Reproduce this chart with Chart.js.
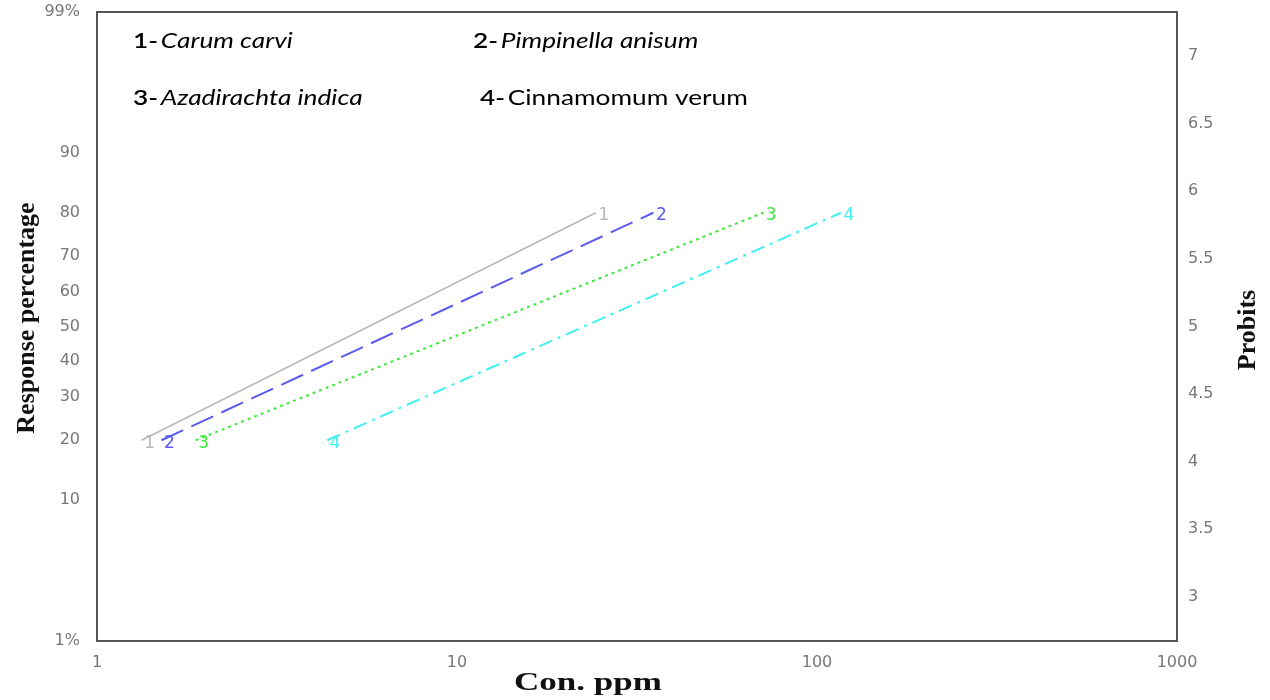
<!DOCTYPE html>
<html>
<head>
<meta charset="utf-8">
<script src="https://cdn.jsdelivr.net/npm/chart.js@4"></script>
<style>
  html, body { margin: 0; padding: 0; background: #fff; }
  #wrap { width: 1270px; height: 700px; }
</style>
</head>
<body>
<div id="wrap"><canvas id="probit_chart" width="1270" height="700"></canvas></div>
<script>
// values
const seriesNo = ['1', '2', '3', '4'];
const species = ['Carum carvi', 'Pimpinella anisum', 'Azadirachta indica', 'Cinnamomum verum'];
const italicName = [true, true, true, false];
const responses = [20, 80];                // % response at the two line ends
const concLow = [1.33, 1.51, 1.88, 4.36];  // ppm at 20 %
const concHigh = [24.3, 35.1, 70.9, 116.5]; // ppm at 80 %
const colors = ['#b8b8b8', '#5a5af0', '#3ee83e', '#3ef0f0'];
const dashes = [[], [24, 9], [3, 4], [14, 6, 3, 6]];
const pctTicks = [1, 10, 20, 30, 40, 50, 60, 70, 80, 90, 99];
const probitTicks = [3, 3.5, 4, 4.5, 5, 5.5, 6, 6.5, 7];
const xTicks = [1, 10, 100, 1000];

// inverse normal (Abramowitz & Stegun 26.2.23) -> probit = 5 + z
function probit(p) {
  p = p / 100;
  const q = p < 0.5 ? p : 1 - p;
  const t = Math.sqrt(-2 * Math.log(q));
  const z = t - (2.515517 + 0.802853 * t + 0.010328 * t * t) /
            (1 + 1.432788 * t + 0.189269 * t * t + 0.001308 * t * t * t);
  return 5 + (p < 0.5 ? -z : z);
}

const datasets = seriesNo.map((n, i) => ({
  label: n,
  data: [{ x: concLow[i], y: probit(responses[0]) }, { x: concHigh[i], y: probit(responses[1]) }],
  borderColor: colors[i],
  borderDash: dashes[i],
  borderWidth: i === 0 ? 1.5 : 2,
  pointRadius: 0,
  fill: false,
  tension: 0
}));

const tickFont = { family: 'DejaVu Sans', size: 16 };

// keep tick labels from pushing the plot box down
function fitY(width) {
  return s => { s.width = width; s.paddingTop = 0; s.paddingBottom = 0; };
}

const drawExtras = {
  id: 'drawExtras',
  afterDatasetsDraw(chart) {
    const ctx = chart.ctx;
    const a = chart.chartArea;
    ctx.save();
    // box
    ctx.strokeStyle = '#555';
    ctx.lineWidth = 2;
    ctx.strokeRect(a.left, a.top, a.right - a.left, a.bottom - a.top);
    // number at each line end
    ctx.font = '17px "DejaVu Sans"';
    ctx.textAlign = 'center';
    ctx.textBaseline = 'middle';
    chart.data.datasets.forEach((ds, i) => {
      chart.getDatasetMeta(i).data.forEach(pt => {
        ctx.fillStyle = ds.borderColor;
        ctx.fillText(ds.label, pt.x + 8, pt.y + 3);
      });
    });
    // species key (source picture is stretched sideways)
    ctx.textAlign = 'left';
    ctx.fillStyle = '#000';
    const spots = [[133, 41], [473, 41], [133, 98], [480, 98]];
    species.forEach((s, i) => {
      ctx.save();
      ctx.translate(spots[i][0], spots[i][1]);
      ctx.scale(1.25, 1);
      ctx.font = '600 21px Lato';
      const pre = seriesNo[i] + '- ';
      ctx.fillText(pre, 0, 0);
      const w = ctx.measureText(pre).width - 3;
      ctx.font = (italicName[i] ? 'italic ' : '') + '21px Lato';
      ctx.fillText(s, w, 0);
      ctx.restore();
    });
    // axis titles
    ctx.fillStyle = '#111';
    ctx.font = 'bold 25px "Liberation Serif"';
    ctx.textAlign = 'center';
    ctx.save();
    ctx.translate(588, 684);
    ctx.scale(1.4, 1);
    ctx.fillText('Con. ppm', 0, 0);
    ctx.restore();
    ctx.font = 'bold 26px "Liberation Serif"';
    ctx.save();
    ctx.translate(27, 318);
    ctx.rotate(-Math.PI / 2);
    ctx.fillText('Response percentage', 0, 0);
    ctx.restore();
    ctx.save();
    ctx.translate(1248, 330);
    ctx.rotate(-Math.PI / 2);
    ctx.fillText('Probits', 0, 0);
    ctx.restore();
    ctx.restore();
  }
};

new Chart(document.getElementById('probit_chart').getContext('2d'), {
  type: 'line',
  data: { datasets: datasets },
  options: {
    responsive: false,
    animation: false,
    layout: { padding: { top: 12, left: 0, right: 0, bottom: 0 } },
    plugins: { legend: { display: false }, tooltip: { enabled: false } },
    scales: {
      x: {
        type: 'logarithmic',
        min: 1, max: 1000,
        grid: { display: false, drawTicks: false },
        border: { display: false },
        afterBuildTicks: s => { s.ticks = xTicks.map(v => ({ value: v })); },
        afterFit: s => { s.height = 59; },
        ticks: { color: '#777', font: tickFont, padding: 12, maxRotation: 0, autoSkip: false,
                 callback: v => String(v) }
      },
      y: {
        type: 'linear',
        position: 'left',
        min: probit(1), max: probit(99),
        grid: { display: false, drawTicks: false },
        border: { display: false },
        afterBuildTicks: s => { s.ticks = pctTicks.map(p => ({ value: probit(p) })); },
        afterFit: fitY(97),
        ticks: { color: '#777', font: tickFont, padding: 17, autoSkip: false,
                 callback: (v, i) => (pctTicks[i] === 1 || pctTicks[i] === 99) ? pctTicks[i] + '%' : String(pctTicks[i]) }
      },
      y2: {
        type: 'linear',
        position: 'right',
        min: probit(1), max: probit(99),
        grid: { display: false, drawTicks: false },
        border: { display: false },
        afterBuildTicks: s => { s.ticks = probitTicks.map(v => ({ value: v })); },
        afterFit: fitY(93),
        ticks: { color: '#777', font: tickFont, padding: 11, autoSkip: false,
                 callback: v => String(v) }
      }
    }
  },
  plugins: [drawExtras]
});
</script>
</body>
</html>
